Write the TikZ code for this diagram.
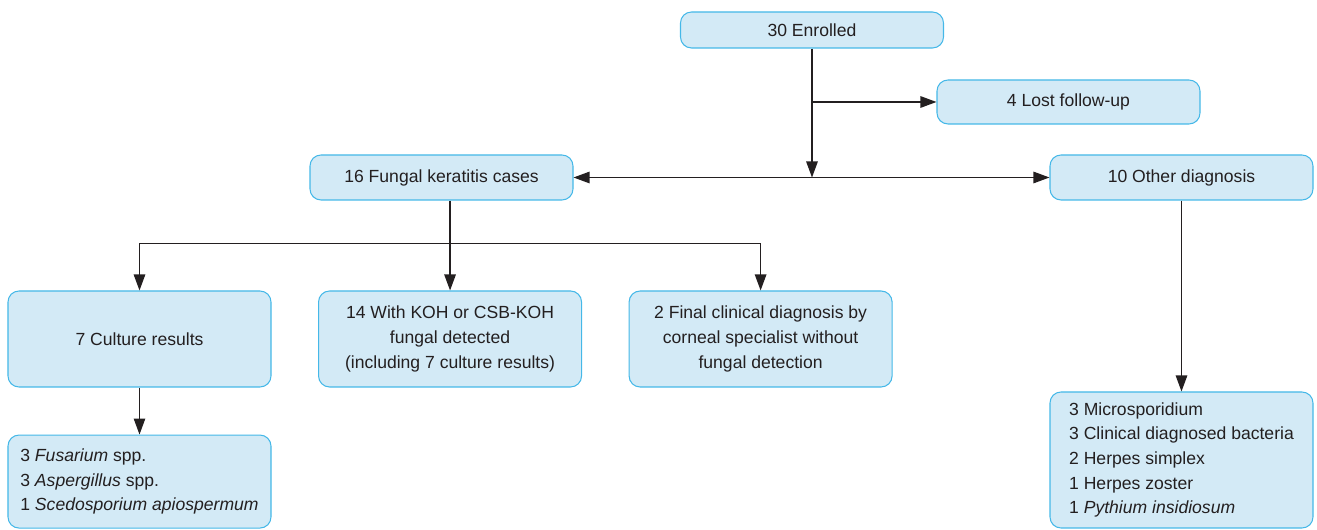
\documentclass[tikz,border=0pt]{standalone}
\usepackage{fontspec}
\setmainfont{Liberation Sans}
\usepackage{xcolor}
\usetikzlibrary{arrows.meta, positioning, calc}
\definecolor{boxfill}{HTML}{D3EAF6}
\definecolor{boxline}{HTML}{45B8E8}
\definecolor{inkgray}{HTML}{231F20}

\begin{document}
\begin{tikzpicture}[
  node distance=9.4mm and 9.3mm,
  box/.style={rectangle, draw=boxline, line width=0.6pt, rounded corners=2.2mm,
    fill=boxfill, align=center, minimum width=5.26cm, text=inkgray,
    font=\fontsize{10}{14}\selectfont},
  listbox/.style={box, align=left},
  arr/.style={-{Triangle[length=3.2mm, width=2.3mm]}, line width=0.7pt, draw=inkgray}
]
\useasboundingbox (0,0) rectangle (26.34,10.6);
\node[box, minimum height=0.72cm] (enrolled) at (16.24,10.0) {30 Enrolled};
\node[box, minimum height=0.88cm] (lost) at (21.37,8.56) {4 Lost follow-up};
\node[box, minimum height=0.9cm] (fungal) at (8.83,7.05) {16 Fungal keratitis cases};
\node[box, minimum height=0.9cm] (other) at (23.63,7.05) {10 Other diagnosis};
\node[box, minimum height=1.92cm] (culture) at (2.79,3.82) {7 Culture results};
\node[box, minimum height=1.92cm, right=of culture] (koh) {14 With KOH or CSB-KOH\\fungal detected\\(including 7 culture results)};
\node[box, minimum height=1.92cm, right=of koh] (final) {2 Final clinical diagnosis by\\corneal specialist without\\fungal detection};
\node[listbox, minimum height=1.86cm, below=of culture] (species) {3 \textit{Fusarium} spp.\\3 \textit{Aspergillus} spp.\\1 \textit{Scedosporium apiospermum}};
\node[listbox, minimum height=2.72cm] (otherlist) at (other |- 0,1.40) {3 Microsporidium\\3 Clinical diagnosed bacteria\\2 Herpes simplex\\1 Herpes zoster\\1 \textit{Pythium insidiosum}};

\coordinate (lostjoin) at (enrolled |- lost);
\coordinate (split) at (enrolled |- fungal);
\coordinate (branch) at ($(culture.north)+(0,0.94)$);

\draw[arr] (enrolled) -- (split);
\draw[arr] (lostjoin) -- (lost);
\draw[arr, {Triangle[length=3.2mm, width=2.3mm]}-{Triangle[length=3.2mm, width=2.3mm]}] (fungal) -- (other);
\draw[arr] (fungal.south -| koh.north) -- (koh);
\draw[line width=0.7pt, draw=inkgray] (branch) -- (branch -| final.north);
\draw[arr] (branch) -- (culture);
\draw[arr] (branch -| final.north) -- (final);
\draw[arr] (culture) -- (species);
\draw[arr] (other) -- (otherlist);
\end{tikzpicture}
\end{document}
